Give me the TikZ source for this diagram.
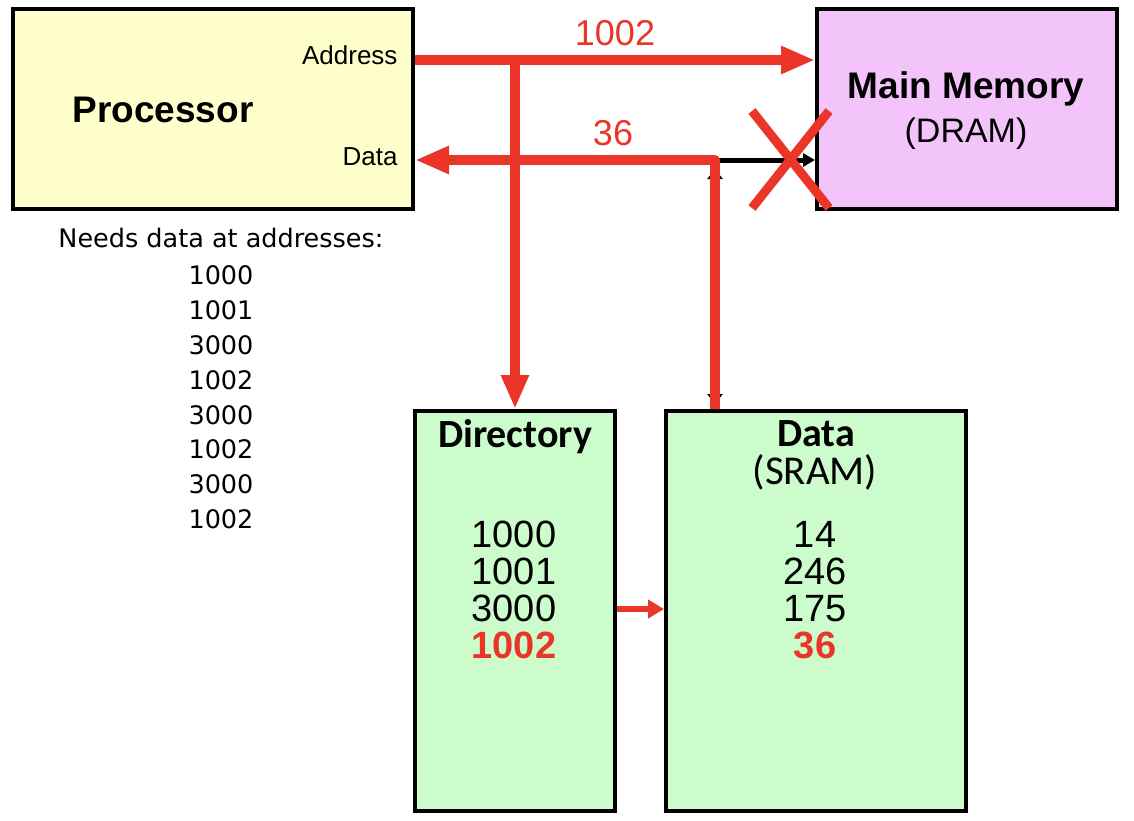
\documentclass[tikz,border=0pt]{standalone}
\usepackage{fontspec}
\setmainfont{Liberation Sans}
\newfontfamily\verdfont{DejaVu Sans}
\newfontfamily\calfont{Carlito}
\usetikzlibrary{arrows.meta}
\definecolor{hitred}{RGB}{234,53,40}
\definecolor{cpuyellow}{RGB}{255,255,204}
\definecolor{drampink}{RGB}{243,196,249}
\definecolor{sramgreen}{RGB}{204,252,204}
\newcommand{\fsize}[1]{\fontsize{#1}{#1}\selectfont}

\begin{document}
\begin{tikzpicture}[x=1pt,y=-1pt,
		box/.style={draw=black,line width=4pt,inner sep=0pt},
		redline/.style={draw=hitred,line width=10pt,-{Triangle[length=34pt,width=26pt]}},
		wire/.style={draw=black,line width=5pt}]
		\useasboundingbox (0,0) rectangle (1134,820);
		%boxes
			\node[box,fill=cpuyellow,minimum width=400pt,minimum height=200pt] (proc) at (213,109) {};
			\node[box,fill=drampink,minimum width=300pt,minimum height=200pt] (mem) at (967,109) {};
			\node[box,fill=sramgreen,minimum width=200pt,minimum height=400pt] (dir) at (515,611) {};
			\node[box,fill=sramgreen,minimum width=300pt,minimum height=400pt] (data) at (816,611) {};
		%box labels
			\node[anchor=base] (proclabel) at (163,122) {\fsize{37}\bfseries Processor};
			\node[anchor=base east] (addrlabel) at (401,64) {\fsize{26}Address};
			\node[anchor=base east] (datalabel) at (401,165) {\fsize{26}Data};
			\node[anchor=base,inner sep=0pt] (memlabel) at (966,98) {\fsize{37}\bfseries Main Memory};
			\node[anchor=base,inner sep=0pt] (dramlabel) at (966,142) {\fsize{34}(DRAM)};
			\node[anchor=base,inner sep=0pt] (dirlabel) at (515,447) {\calfont\fsize{40}\bfseries Directory};
			\node[anchor=base,inner sep=0pt] (sramlabel) at (816,446) {\calfont\fsize{40}\bfseries Data};
			\node[anchor=base,inner sep=0pt] (sramtype) at (815,484) {\calfont\fsize{41}(SRAM)};
		%directory + data entries
			\node[anchor=base] (tag1) at (514,547) {\fsize{38}1000};
			\node[anchor=base] (tag2) at (514,584) {\fsize{38}1001};
			\node[anchor=base] (tag3) at (514,621) {\fsize{38}3000};
			\node[anchor=base,text=hitred] (tag4) at (514,658) {\fsize{38}\bfseries 1002};
			\node[anchor=base] (val1) at (815,547) {\fsize{38}14};
			\node[anchor=base] (val2) at (815,584) {\fsize{38}246};
			\node[anchor=base] (val3) at (815,621) {\fsize{38}175};
			\node[anchor=base,text=hitred] (val4) at (815,658) {\fsize{38}\bfseries 36};
		%address list
			\node[anchor=base] (needs) at (221,247) {\verdfont\fsize{25.5}Needs data at addresses:};
			\node[anchor=base] (req1) at (221,284) {\verdfont\fsize{25.5}1000};
			\node[anchor=base] (req2) at (221,319) {\verdfont\fsize{25.5}1001};
			\node[anchor=base] (req3) at (221,354) {\verdfont\fsize{25.5}3000};
			\node[anchor=base] (req4) at (221,389) {\verdfont\fsize{25.5}1002};
			\node[anchor=base] (req5) at (221,424) {\verdfont\fsize{25.5}3000};
			\node[anchor=base] (req6) at (221,458) {\verdfont\fsize{25.5}1002};
			\node[anchor=base] (req7) at (221,493) {\verdfont\fsize{25.5}3000};
			\node[anchor=base] (req8) at (221,528) {\verdfont\fsize{25.5}1002};
		%black wires underneath
			\coordinate (corner) at (715,160);
			\draw[wire,-{Triangle[length=12pt,width=13pt]}] (corner) -- (corner -| mem.west);
			\draw[line width=3pt,{Triangle[length=10pt,width=15pt]}-{Triangle[length=10pt,width=15pt]}] (corner |- 0,169) -- (corner |- 0,404);
		%red arrows + values
			\coordinate (addrout) at (proc.east |- 0,60);
			\coordinate (split) at (515,60);
			\draw[redline] (addrout) -- (addrout -| mem.west);
			\draw[redline] (split) -- (split |- dir.north);
			\draw[redline,line join=round] (corner |- data.north) -- (corner) -- (corner -| proc.east);
			\draw[hitred,line width=6pt,-{Triangle[length=16pt,width=18pt]}] (dir.east |- 0,609) -- (data.west |- 0,609);
			\node[anchor=base,text=hitred] (addrval) at (615,45) {\fsize{36}1002};
			\node[anchor=base,text=hitred] (dataval) at (613,145) {\fsize{36}36};
		%cross
			\draw[hitred,line width=9pt] (752,111) -- (829,208) (829,111) -- (752,208);
	\end{tikzpicture}
\end{document}
